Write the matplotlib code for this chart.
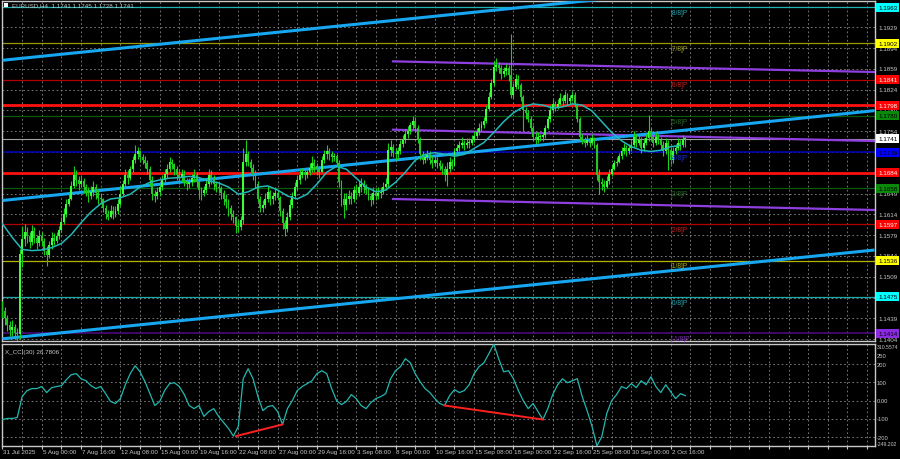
import numpy as np
import matplotlib.pyplot as plt
import matplotlib.transforms as mtransforms
from matplotlib.patches import Rectangle

plt.rcParams['font.family'] = ['Liberation Sans', 'DejaVu Sans']

# EURUSD H4 bars, 31 Jul 08:00 .. 3 Oct 16:00 (one row per trading day)
first_open = 1.1460
closes = [
    1.1452, 1.1440, 1.1428, 1.1420,
    1.1425, 1.1415, 1.1412, 1.1548, 1.1572, 1.1585,
    1.1578, 1.1568, 1.1586, 1.1575, 1.1565, 1.1578,
    1.1570, 1.1552, 1.1545, 1.1562, 1.1575, 1.1570,
    1.1578, 1.1588, 1.1602, 1.1615, 1.1632, 1.1640,
    1.1662, 1.1680, 1.1672, 1.1665, 1.1670, 1.1660,
    1.1655, 1.1645, 1.1652, 1.1660, 1.1650, 1.1642,
    1.1640, 1.1625, 1.1615, 1.1610, 1.1620, 1.1615,
    1.1620, 1.1632, 1.1648, 1.1665, 1.1680, 1.1675,
    1.1690, 1.1705, 1.1715, 1.1720, 1.1710, 1.1705,
    1.1700, 1.1690, 1.1672, 1.1648, 1.1645, 1.1652,
    1.1660, 1.1672, 1.1682, 1.1690, 1.1702, 1.1698,
    1.1690, 1.1680, 1.1675, 1.1682, 1.1670, 1.1665,
    1.1668, 1.1675, 1.1680, 1.1668, 1.1655, 1.1650,
    1.1655, 1.1665, 1.1680, 1.1675, 1.1665, 1.1660,
    1.1658, 1.1650, 1.1640, 1.1635, 1.1625, 1.1615,
    1.1610, 1.1595, 1.1592, 1.1605, 1.1702, 1.1715,
    1.1702, 1.1692, 1.1680, 1.1665, 1.1640, 1.1625,
    1.1630, 1.1640, 1.1652, 1.1640, 1.1645, 1.1650,
    1.1642, 1.1620, 1.1600, 1.1590, 1.1610, 1.1630,
    1.1645, 1.1660, 1.1672, 1.1680, 1.1685, 1.1680,
    1.1685, 1.1692, 1.1700, 1.1695, 1.1690, 1.1685,
    1.1705, 1.1715, 1.1720, 1.1715, 1.1710, 1.1712,
    1.1700, 1.1668, 1.1640, 1.1630, 1.1640, 1.1645,
    1.1640, 1.1655, 1.1650, 1.1660, 1.1665, 1.1660,
    1.1655, 1.1645, 1.1638, 1.1650, 1.1645, 1.1650,
    1.1652, 1.1660, 1.1665, 1.1722, 1.1728, 1.1718,
    1.1715, 1.1720, 1.1732, 1.1740, 1.1750, 1.1755,
    1.1765, 1.1772, 1.1760, 1.1740, 1.1715, 1.1705,
    1.1710, 1.1715, 1.1705, 1.1700, 1.1706, 1.1700,
    1.1695, 1.1690, 1.1680, 1.1690, 1.1702, 1.1696,
    1.1720, 1.1725, 1.1730, 1.1735, 1.1730, 1.1735,
    1.1735, 1.1740, 1.1746, 1.1752, 1.1760, 1.1765,
    1.1772, 1.1792, 1.1812, 1.1835, 1.1862, 1.1866,
    1.1860, 1.1850, 1.1855, 1.1860, 1.1848, 1.1815,
    1.1828, 1.1842, 1.1832, 1.1812, 1.1790, 1.1785,
    1.1775, 1.1760, 1.1745, 1.1740, 1.1745, 1.1745,
    1.1748, 1.1760, 1.1775, 1.1790, 1.1800, 1.1795,
    1.1800, 1.1810, 1.1805, 1.1815, 1.1805, 1.1810,
    1.1815, 1.1800, 1.1775, 1.1745, 1.1740, 1.1735,
    1.1740, 1.1735, 1.1742, 1.1730, 1.1680, 1.1668,
    1.1665, 1.1660, 1.1670, 1.1682, 1.1690, 1.1700,
    1.1702, 1.1712, 1.1720, 1.1726, 1.1720, 1.1725,
    1.1730, 1.1745, 1.1735, 1.1740, 1.1725, 1.1735,
    1.1742, 1.1755, 1.1745, 1.1735, 1.1745, 1.1740,
    1.1730, 1.1720, 1.1735, 1.1722, 1.1705, 1.1720,
    1.1726, 1.1735, 1.1730, 1.1741, 1.1741,
]
highs = [
    1.1468, 1.1458, 1.1445, 1.1435,
    1.1436, 1.1430, 1.1422, 1.1556, 1.1595, 1.1598,
    1.1592, 1.1584, 1.1596, 1.1592, 1.1580, 1.1588,
    1.1585, 1.1575, 1.1560, 1.1570, 1.1585, 1.1582,
    1.1585, 1.1595, 1.1610, 1.1625, 1.1640, 1.1648,
    1.1670, 1.1695, 1.1688, 1.1678, 1.1680, 1.1675,
    1.1665, 1.1660, 1.1662, 1.1670, 1.1665, 1.1655,
    1.1650, 1.1642, 1.1630, 1.1622, 1.1630, 1.1628,
    1.1628, 1.1640, 1.1660, 1.1672, 1.1690, 1.1688,
    1.1695, 1.1712, 1.1730, 1.1728, 1.1722, 1.1715,
    1.1712, 1.1705, 1.1695, 1.1678, 1.1655, 1.1660,
    1.1665, 1.1680, 1.1690, 1.1698, 1.1710, 1.1708,
    1.1700, 1.1695, 1.1688, 1.1690, 1.1688, 1.1675,
    1.1675, 1.1682, 1.1690, 1.1685, 1.1672, 1.1660,
    1.1662, 1.1672, 1.1690, 1.1688, 1.1680, 1.1670,
    1.1668, 1.1662, 1.1655, 1.1648, 1.1640, 1.1630,
    1.1622, 1.1612, 1.1605, 1.1612, 1.1725, 1.1740,
    1.1720, 1.1708, 1.1698, 1.1688, 1.1670, 1.1645,
    1.1638, 1.1650, 1.1662, 1.1655, 1.1652, 1.1660,
    1.1655, 1.1645, 1.1625, 1.1605, 1.1618, 1.1640,
    1.1652, 1.1668, 1.1680, 1.1690, 1.1692, 1.1690,
    1.1692, 1.1700, 1.1712, 1.1708, 1.1700, 1.1695,
    1.1712, 1.1722, 1.1730, 1.1725, 1.1720, 1.1718,
    1.1715, 1.1705, 1.1672, 1.1650, 1.1650, 1.1655,
    1.1652, 1.1662, 1.1665, 1.1670, 1.1675, 1.1672,
    1.1665, 1.1660, 1.1650, 1.1660, 1.1658, 1.1660,
    1.1660, 1.1668, 1.1675, 1.1735, 1.1740, 1.1732,
    1.1725, 1.1728, 1.1740, 1.1748, 1.1758, 1.1762,
    1.1770, 1.1780, 1.1778, 1.1765, 1.1745, 1.1720,
    1.1716, 1.1722, 1.1720, 1.1712, 1.1712, 1.1710,
    1.1705, 1.1700, 1.1695, 1.1702, 1.1710, 1.1708,
    1.1725, 1.1732, 1.1738, 1.1745, 1.1740, 1.1742,
    1.1742, 1.1748, 1.1755, 1.1760, 1.1768, 1.1772,
    1.1778, 1.1798, 1.1820, 1.1842, 1.1872, 1.1878,
    1.1870, 1.1865, 1.1862, 1.1868, 1.1865, 1.1918,
    1.1835, 1.1850, 1.1848, 1.1835, 1.1815, 1.1795,
    1.1790, 1.1780, 1.1765, 1.1752, 1.1752, 1.1750,
    1.1752, 1.1765, 1.1780, 1.1798, 1.1808, 1.1805,
    1.1808, 1.1818, 1.1815, 1.1822, 1.1818, 1.1815,
    1.1822, 1.1820, 1.1802, 1.1778, 1.1750, 1.1745,
    1.1748, 1.1745, 1.1750, 1.1745, 1.1735, 1.1690,
    1.1675, 1.1672, 1.1678, 1.1690, 1.1698, 1.1705,
    1.1710, 1.1718, 1.1728, 1.1735, 1.1730, 1.1732,
    1.1738, 1.1755, 1.1750, 1.1748, 1.1745, 1.1742,
    1.1750, 1.1782, 1.1760, 1.1750, 1.1752, 1.1750,
    1.1745, 1.1738, 1.1742, 1.1740, 1.1728, 1.1728,
    1.1732, 1.1742, 1.1740, 1.1748, 1.1745,
]
lows = [
    1.1440, 1.1428, 1.1418, 1.1410,
    1.1410, 1.1405, 1.1400, 1.1405, 1.1525, 1.1560,
    1.1565, 1.1558, 1.1562, 1.1566, 1.1555, 1.1560,
    1.1560, 1.1545, 1.1527, 1.1540, 1.1555, 1.1562,
    1.1565, 1.1572, 1.1585, 1.1598, 1.1610, 1.1628,
    1.1638, 1.1658, 1.1662, 1.1655, 1.1660, 1.1650,
    1.1645, 1.1635, 1.1640, 1.1645, 1.1640, 1.1632,
    1.1632, 1.1618, 1.1606, 1.1604, 1.1608, 1.1606,
    1.1610, 1.1615, 1.1628, 1.1645, 1.1660, 1.1665,
    1.1672, 1.1685, 1.1700, 1.1708, 1.1702, 1.1698,
    1.1692, 1.1682, 1.1662, 1.1638, 1.1635, 1.1640,
    1.1645, 1.1655, 1.1668, 1.1675, 1.1685, 1.1690,
    1.1680, 1.1672, 1.1665, 1.1668, 1.1662, 1.1655,
    1.1658, 1.1662, 1.1668, 1.1660, 1.1642, 1.1638,
    1.1645, 1.1650, 1.1660, 1.1665, 1.1655, 1.1652,
    1.1650, 1.1640, 1.1630, 1.1625, 1.1612, 1.1605,
    1.1600, 1.1582, 1.1584, 1.1588, 1.1598, 1.1695,
    1.1695, 1.1685, 1.1672, 1.1658, 1.1635, 1.1618,
    1.1618, 1.1625, 1.1635, 1.1630, 1.1632, 1.1638,
    1.1638, 1.1612, 1.1590, 1.1578, 1.1585, 1.1605,
    1.1625, 1.1640, 1.1655, 1.1665, 1.1675, 1.1672,
    1.1675, 1.1680, 1.1685, 1.1685, 1.1680, 1.1675,
    1.1685, 1.1700, 1.1708, 1.1705, 1.1702, 1.1704,
    1.1695, 1.1660, 1.1628, 1.1608, 1.1622, 1.1632,
    1.1632, 1.1635, 1.1640, 1.1645, 1.1652, 1.1650,
    1.1648, 1.1638, 1.1628, 1.1632, 1.1638, 1.1640,
    1.1642, 1.1648, 1.1655, 1.1660, 1.1712, 1.1710,
    1.1705, 1.1708, 1.1715, 1.1728, 1.1735, 1.1742,
    1.1750, 1.1758, 1.1752, 1.1735, 1.1705, 1.1698,
    1.1700, 1.1705, 1.1698, 1.1692, 1.1695, 1.1692,
    1.1688, 1.1682, 1.1670, 1.1662, 1.1685, 1.1690,
    1.1695, 1.1712, 1.1720, 1.1725, 1.1722, 1.1725,
    1.1726, 1.1730, 1.1736, 1.1742, 1.1748, 1.1755,
    1.1760, 1.1768, 1.1788, 1.1808, 1.1830, 1.1855,
    1.1852, 1.1842, 1.1845, 1.1848, 1.1838, 1.1810,
    1.1810, 1.1825, 1.1825, 1.1805, 1.1755, 1.1775,
    1.1770, 1.1755, 1.1738, 1.1732, 1.1735, 1.1738,
    1.1738, 1.1742, 1.1758, 1.1770, 1.1785, 1.1788,
    1.1792, 1.1798, 1.1798, 1.1802, 1.1798, 1.1800,
    1.1805, 1.1795, 1.1770, 1.1740, 1.1732, 1.1728,
    1.1730, 1.1728, 1.1732, 1.1725, 1.1672, 1.1649,
    1.1655, 1.1652, 1.1658, 1.1665, 1.1678, 1.1688,
    1.1695, 1.1700, 1.1708, 1.1715, 1.1712, 1.1715,
    1.1720, 1.1728, 1.1728, 1.1730, 1.1718, 1.1720,
    1.1730, 1.1738, 1.1738, 1.1728, 1.1730, 1.1732,
    1.1722, 1.1712, 1.1715, 1.1688, 1.1698, 1.1700,
    1.1715, 1.1722, 1.1722, 1.1728, 1.1728,
]

# moving average, read every 4th bar
ma_step = 4
ma_vals = [
    1.1598, 1.1575, 1.1555, 1.1553, 1.1554, 1.1558, 1.1565, 1.1580, 1.1600, 1.1618,
    1.1632, 1.1640, 1.1642, 1.1648, 1.1660, 1.1668, 1.1672, 1.1675, 1.1676, 1.1678,
    1.1676, 1.1670, 1.1667, 1.1660, 1.1648, 1.1652, 1.1660, 1.1662, 1.1655, 1.1645,
    1.1640, 1.1648, 1.1665, 1.1685, 1.1695, 1.1690, 1.1675, 1.1660, 1.1652, 1.1655,
    1.1668, 1.1685, 1.1705, 1.1715, 1.1718, 1.1715, 1.1712, 1.1715, 1.1725, 1.1735,
    1.1752, 1.1770, 1.1785, 1.1795, 1.1800, 1.1798, 1.1793, 1.1795, 1.1800, 1.1798,
    1.1788, 1.1770, 1.1752, 1.1738, 1.1728, 1.1722, 1.1720, 1.1722, 1.1728, 1.1730,
]

# CCI(30), read every 2nd bar
cci_step = 2
cci_vals = [
    -104, -98, -98, -93, 22, 55, 66, 66, 77, 44,
    71, 77, 82, 115, 142, 148, 120, 109, 82, 66,
    77, 38, -5, -16, 11, 87, 148, 191, 158, 104,
    38, -27, -5, 55, 93, 98, 77, 33, -27, -44,
    -27, -87, -60, -44, -87, -120, -153, -195, -142, 120,
    175, 120, 22, -55, -33, -27, -60, -131, -44, 0,
    55, 77, 93, 109, 148, 164, 148, 66, 0, -22,
    -5, 33, 11, -27, -44, -11, 11, 22, 38, 120,
    164, 186, 230, 208, 148, 104, 66, 44, 11, -16,
    -27, 27, 60, 44, 55, 87, 148, 186, 208, 257,
    310, 230, 158, 164, 120, 55, 0, -44, -16, -60,
    -104, -44, 33, 87, 120, 98, 109, 120, 22, -55,
    -142, -249, -197, -71, 0, 33, 77, 66, 93, 71,
    109, 87, 131, 77, 44, 87, 49, 11, 38, 27,
]
cci_min, cci_max = -249.202, 310.5574
div_lines = [((95, -195), (114, -131)), ((180, -27), (220, -104))]

# Murray math levels
murray_levels = [1.1963, 1.1902, 1.1841, 1.1780, 1.1719, 1.1658, 1.1597, 1.1536, 1.1475, 1.1414]
murray_names = ['[8/8]P', '[7/8]P', '[6/8]P', '[5/8]P', '[4/8]P',
                '[3/8]P', '[2/8]P', '[1/8]P', '[0/8]P', '[-1/8]P']
murray_line = ['#1fb4b4', '#9a9a00', '#b00000', '#0c5a0c', '#0000b4',
               '#0c5a0c', '#b00000', '#b4b400', '#1fa8a8', '#4a0a7a']
murray_text = ['#2aa6b0', '#a0a020', '#c02020', '#2a6a2a', '#2030c8',
               '#2a6a2a', '#c02020', '#b0b020', '#2aa6b0', '#7a30b0']
murray_box = ['#00ffff', '#ffff00', '#ff0000', '#0a8a0a', '#0000ff',
              '#0a8a0a', '#ff0000', '#ffff00', '#00ffff', '#8a2be2']
murray_box_text = ['black', 'black', 'white', 'black', 'black',
                   'black', 'white', 'black', 'black', 'black']

red_levels = [1.1798, 1.1684]
bid = 1.1741

# regression channel (purple) and trend channel (blue), (bar, price) anchors
trend_lines = [((0, 1.18735), (355, 1.2023)),
               ((0, 1.16374), (355, 1.17887)),
               ((0, 1.14045), (355, 1.15540))]
reg_lines = [((159, 1.18717), (355, 1.18537)),
             ((159, 1.17566), (355, 1.17375)),
             ((159, 1.16399), (355, 1.16214))]

price_ticks = [1.1404, 1.1439, 1.1474, 1.1509, 1.1544, 1.1579, 1.1614, 1.1649,
               1.1684, 1.1719, 1.1754, 1.1789, 1.1824, 1.1859, 1.1894, 1.1929, 1.1964]
cci_tick_vals = [310.5574, 250, 200, 100, 0, -100, -200, -249.202]
cci_tick_text = ['310.5574', '250', '200', '100', '0.00', '-100', '-200', '-249.202']

x_labels = ['31 Jul 2025', '5 Aug 00:00', '7 Aug 16:00', '12 Aug 08:00', '15 Aug 00:00',
            '19 Aug 16:00', '22 Aug 08:00', '27 Aug 00:00', '29 Aug 16:00', '3 Sep 08:00',
            '8 Sep 00:00', '10 Sep 16:00', '15 Sep 08:00', '18 Sep 00:00', '22 Sep 16:00',
            '25 Sep 08:00', '30 Sep 00:00', '2 Oct 16:00']
x_label_bars = [16 * i for i in range(len(x_labels))]

fg = '#c8c8c8'
fs = 4.5

n = min(len(closes), len(highs), len(lows))
idx = np.arange(n)
c = np.array(closes[:n])
o = np.array([first_open] + closes[:n - 1])
h = np.array(highs[:n])
l = np.array(lows[:n])

fig = plt.figure(figsize=(9, 4.6), dpi=100, facecolor='black')
ax = fig.add_axes([2 / 900, 118 / 460, 873 / 900, 340 / 460], facecolor='black')
axc = fig.add_axes([2 / 900, 13 / 460, 873 / 900, 102 / 460], facecolor='black')

for a in (ax, axc):
    a.set_xlim(-0.2, 355.2)
    a.set_xticks(np.arange(0, 356, 8))
    a.tick_params(axis='both', length=0, labelbottom=False, labelleft=False)
    a.grid(True, color='#8a8a8a', lw=0.6, ls=(0, (2, 3)), zorder=0)
    a.set_axisbelow(True)
    for s in a.spines.values():
        s.set_color(fg)
        s.set_linewidth(1)
axc.tick_params(axis='x', length=2.5, color=fg, direction='out')

ax.set_ylim(1.14008, 1.19733)
ax.set_yticks(price_ticks)
axc.set_ylim(cci_min, cci_max)
axc.set_yticks([-200, -100, 0, 100, 200])

# horizontal levels
for lvl, col in zip(murray_levels, murray_line):
    ax.axhline(lvl, color=col, lw=1.2 if col in ('#0000b4', '#4a0a7a') else 0.9, zorder=1)
for lvl in red_levels:
    ax.axhline(lvl, color='#ff1010', lw=2, zorder=2)
ax.axhline(bid, color='#a0a0a0', lw=0.8, zorder=2)

for (x0, y0), (x1, y1) in reg_lines:
    ax.plot([x0, x1], [y0, y1], color='#8f3fe0', lw=1.6, zorder=2)
for (x0, y0), (x1, y1) in trend_lines:
    ax.plot([x0, x1], [y0, y1], color='#17a6f0', lw=2.2, zorder=3, solid_capstyle='butt')

# candles
up = c >= o
ax.vlines(idx, l, h, color='#18d018', lw=0.8, zorder=4)
body = np.maximum(np.abs(c - o), 0.00008)
ax.bar(idx[up], body[up], bottom=o[up], width=0.78, color='#3cff3c', lw=0, zorder=5)
ax.bar(idx[~up], body[~up], bottom=c[~up], width=0.78, color='#26c426', lw=0, zorder=5)

ma_x = np.arange(len(ma_vals)) * ma_step
ax.plot(ma_x, ma_vals, color='#22b8b8', lw=1.1, zorder=6)

# murray labels inside chart
for lvl, name, col in zip(murray_levels, murray_names, murray_text):
    ax.text(272, lvl - 0.0003, name, color=col, fontsize=fs + 0.3, va='top', ha='left', zorder=7)

# right price scale
tr = mtransforms.blended_transform_factory(fig.transFigure, ax.transData)
for p in price_ticks:
    ax.text(878 / 900, p, f'{p:.4f}', transform=tr, color=fg, fontsize=fs,
            va='center', ha='left', clip_on=False)

box_levels = murray_levels + red_levels + [bid]
box_bg = murray_box + ['#ff0000', '#ff0000', '#ffffff']
box_fg = murray_box_text + ['white', 'white', 'black']
half = 4.5 / 5939
for p, bg, tc in zip(box_levels, box_bg, box_fg):
    ax.add_patch(Rectangle((876 / 900, p - half), 23 / 900, 2 * half, transform=tr,
                           facecolor=bg, edgecolor='none', clip_on=False, zorder=10))
    ax.text(878 / 900, p, f'{p:.4f}', transform=tr, color=tc, fontsize=fs,
            va='center', ha='left', clip_on=False, zorder=11)

# header
fig.add_artist(Rectangle((4 / 900, 1 - 8 / 460), 4 / 900, 4 / 460, transform=fig.transFigure,
                         facecolor='white', edgecolor='none'))
fig.text(12 / 900, 1 - 6 / 460, 'EURUSD,H4  1.1741 1.1745 1.1728 1.1741', color=fg,
         fontsize=fs, va='center', ha='left')

# CCI panel
cci_x = np.arange(len(cci_vals)) * cci_step
axc.plot(cci_x, cci_vals, color='#22b8b0', lw=0.9, zorder=3)
for (x0, y0), (x1, y1) in div_lines:
    axc.plot([x0, x1], [y0, y1], color='#ff2020', lw=1.4, zorder=4)
axc.text(0.004, 0.93, 'X_CCI(30) 26.7806', transform=axc.transAxes, color=fg,
         fontsize=fs, va='center', ha='left')
trc = mtransforms.blended_transform_factory(fig.transFigure, axc.transData)
for v, t in zip(cci_tick_vals, cci_tick_text):
    va = 'center'
    size = fs - 0.3
    if v == cci_max:
        va = 'top'
        size = fs - 0.8
    elif v == cci_min:
        va = 'bottom'
        size = fs - 0.8
    axc.text(877 / 900, v, t, transform=trc, color=fg, fontsize=size,
             va=va, ha='left', clip_on=False)

# time axis labels
trx = mtransforms.blended_transform_factory(axc.transData, fig.transFigure)
for b, t in zip(x_label_bars, x_labels):
    axc.text(b + 0.4, 7 / 460, t, transform=trx, color=fg, fontsize=fs,
             va='center', ha='left', clip_on=False)

fig.savefig('out.png', dpi=100, facecolor='black')
